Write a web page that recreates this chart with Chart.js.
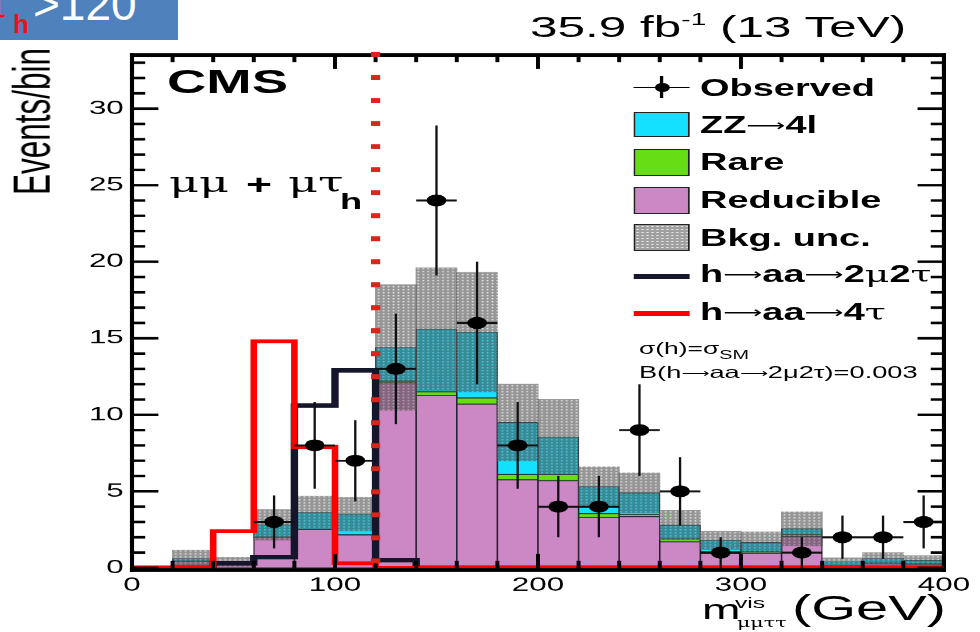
<!DOCTYPE html>
<html>
<head>
<meta charset="utf-8">
<script src="https://cdn.jsdelivr.net/npm/chart.js@4.4.1/dist/chart.umd.min.js"></script>
<style>
  html, body { margin: 0; padding: 0; background: #fff; overflow: hidden; }
  body { width: 980px; height: 632px; position: relative; font-family: "Liberation Sans", Arial, Helvetica, sans-serif; }
  /* the plot page is laid out in a narrower frame and widened as a whole */
  #stage { position: absolute; left: 0; top: 0; width: 594px; height: 632px; transform-origin: 0 0; transform: scaleX(1.6498); }
  #plot { position: absolute; left: 0; top: 0; width: 594px; height: 632px; }
  .t { position: absolute; white-space: nowrap; color: #000; }
  .b { font-weight: bold; }
  .g { font-family: "DejaVu Serif", serif; font-weight: normal; }
  .ar { font-family: "DejaVu Sans", sans-serif; font-weight: normal; font-size: 0.72em; position: relative; top: -0.12em; }
  .box { position: absolute; border: 1px solid #222; box-sizing: border-box; }
  .ln { position: absolute; }
  #tag { position: absolute; left: 0; top: 0; width: 178px; height: 40px; background: #4f81bd; overflow: hidden; }
  #tag div { position: absolute; white-space: nowrap; }
</style>
</head>
<body>
<div id="tag">
  <div style="left:-13px;top:-17px;font:40px 'DejaVu Serif',serif;line-height:40px;color:#e8141c;">τ</div>
  <div style="left:13px;top:11px;font:bold 26px 'Liberation Sans',Arial,sans-serif;line-height:26px;color:#e8141c;">h</div>
  <div style="left:33px;top:-19px;font:46px 'Liberation Sans',Arial,sans-serif;line-height:46px;color:#fff;">&gt;120</div>
</div>
<div id="stage">
  <div id="plot"><canvas id="c"></canvas></div>
</div>
<script>
// ---- binning (m_vis, GeV) ----
const binLow = [0, 20, 40, 60, 80, 100, 120, 140, 160, 180, 200, 220, 240, 260, 280, 300, 320, 340, 360, 380];
const binWidth = 20;

// ---- background expectations per bin ----
const reducible = [0, 0.45, 0.3, 2.0, 2.5, 2.15, 12.1, 11.25, 10.7, 5.75, 5.7, 3.3, 3.35, 1.7, 0.95, 0.95, 2.05, 0.05, 0.3, 0.25];
const rare      = [0, 0, 0, 0.02, 0.02, 0.02, 0.1, 0.25, 0.4, 0.35, 0.4, 0.25, 0.15, 0.2, 0.1, 0.1, 0.15, 0, 0.02, 0.02];
const zz4l      = [0, 0.15, 0.1, 0.8, 1.1, 1.35, 2.2, 4.1, 4.3, 3.4, 2.45, 1.75, 1.4, 0.9, 0.75, 0.6, 0.35, 0.35, 0.28, 0.23];
const bkgUnc    = [0, 0.55, 0.3, 1.0, 1.05, 1.1, 4.1, 4.0, 3.9, 2.5, 2.45, 1.3, 1.3, 0.95, 0.6, 0.7, 1.1, 0.25, 0.4, 0.3];

// ---- signal hypotheses ----
const sig2mu2tau = [0, 0, 0.3, 0.7, 10.6, 12.9, 0.5, 0, 0, 0, 0, 0, 0, 0, 0, 0, 0, 0, 0, 0];
const sig4tau    = [0, 0, 2.4, 14.8, 7.9, 0.3, 0, 0, 0, 0, 0, 0, 0, 0, 0, 0, 0, 0, 0, 0];

// ---- observed events ----
const observed = [0, 0, 0, 3, 8, 7, 13, 24, 16, 8, 4, 4, 9, 5, 1, 0, 1, 2, 2, 3];

// ---- axes ----
const xTickValues = [0, 100, 200, 300, 400];
const yTickValues = [0, 5, 10, 15, 20, 25, 30];
const xRange = [0, 400];
const yRange = [0, 33.5];
const cutValue = 120;

// ---- derived tables for the library ----
const centers = binLow.map(v => v + binWidth / 2);
const rareTop = reducible.map((v, i) => v + rare[i]);
const bkgTotal = rareTop.map((v, i) => v + zz4l[i]);
const floatBars = (lo, hi) => centers.map((c, i) => ({ x: c, y: [lo[i], hi[i]] }));
const stepLine = vals => binLow.map((x, i) => ({ x, y: vals[i] }))
  .concat([{ x: binLow[binLow.length - 1] + binWidth, y: vals[vals.length - 1] }]);

const obsBins = observed.map((n, i) => i).filter(i => observed[i] > 0);
const obsPoints = obsBins.map(i => ({ x: centers[i], y: observed[i] }));
const obsErrV = obsBins.flatMap(i => {
  const n = observed[i], e = Math.sqrt(n);
  return [{ x: centers[i], y: n - e }, { x: centers[i], y: n + e }, { x: centers[i], y: null }];
});
const obsErrH = obsBins.flatMap(i => [
  { x: binLow[i], y: observed[i] }, { x: binLow[i] + binWidth, y: observed[i] }, { x: centers[i], y: null }
]);

function dotPattern() {
  const c = document.createElement('canvas');
  c.width = 3; c.height = 3;
  const g = c.getContext('2d');
  g.fillStyle = 'rgba(80,80,80,0.6)';
  g.fillRect(0, 0, 3, 3);
  g.clearRect(1, 1, 1, 1);
  g.fillStyle = 'rgba(240,240,240,0.3)';
  g.fillRect(1, 1, 1, 1);
  return g.createPattern(c, 'repeat');
}

const STAGE_W = 594, H = 632, SX = 980 / STAGE_W;
const AREA = { left: 132 / SX, right: 948 / SX, top: 55, bottom: 567.5 };

// frame with inward ticks and the dotted selection line
const framePlugin = {
  id: 'frame',
  afterDatasetsDraw(chart) {
    const { ctx, chartArea: a, scales: { x, y } } = chart;
    ctx.save();
    ctx.fillStyle = '#000';
    const vw = 2.5, hw = 4;
    ctx.fillRect(a.left - vw / 2, a.top - hw / 2, a.right - a.left + vw, hw);
    ctx.fillRect(a.left - vw / 2, a.bottom, a.right - a.left + vw, hw);
    ctx.fillRect(a.left - vw / 2, a.top - hw / 2, vw, a.bottom - a.top + hw + hw / 2);
    ctx.fillRect(a.right - vw / 2, a.top - hw / 2, vw, a.bottom - a.top + hw + hw / 2);
    for (let v = 0; v <= yRange[1]; v += 1) {
      const py = y.getPixelForValue(v);
      const len = v % 5 === 0 ? 16 : 8;
      ctx.fillRect(a.left, py - 1.25, len, 2.5);
      ctx.fillRect(a.right - len, py - 1.25, len, 2.5);
    }
    for (let v = xRange[0]; v <= xRange[1]; v += binWidth) {
      const px = x.getPixelForValue(v);
      const len = v % 100 === 0 ? 14 : 7;
      ctx.fillRect(px - 1.2, a.bottom - len, 2.4, len);
      ctx.fillRect(px - 1.2, a.top, 2.4, len);
    }
    const cx = x.getPixelForValue(cutValue);
    ctx.fillStyle = '#d9261c';
    for (let yy = a.top - 3; yy < a.bottom - 2; yy += 23) {
      ctx.fillRect(cx - 2.8, yy, 5.6, 5);
    }
    ctx.restore();
  }
};

const tickFont = { family: '"Liberation Sans", Arial, sans-serif', size: 19 };

new Chart(document.getElementById('c'), {
  type: 'bar',
  data: {
    datasets: [
      { type: 'scatter', label: 'Observed', data: obsPoints, pointRadius: 6, pointHoverRadius: 6,
        pointBackgroundColor: '#000', pointBorderWidth: 0, order: 0 },
      { type: 'line', label: 'obs-err-v', data: obsErrV, borderColor: '#111', borderWidth: 1.4,
        pointRadius: 0, spanGaps: false, order: 1 },
      { type: 'line', label: 'obs-err-h', data: obsErrH, borderColor: '#111', borderWidth: 2,
        pointRadius: 0, spanGaps: false, order: 1 },
      { type: 'line', label: 'h→aa→4τ', data: stepLine(sig4tau), stepped: 'before', borderColor: '#ff0000',
        borderWidth: 4, pointRadius: 0, order: 2 },
      { type: 'line', label: 'h→aa→2μ2τ', data: stepLine(sig2mu2tau), stepped: 'before', borderColor: '#15152b',
        borderWidth: 4.5, pointRadius: 0, order: 3 },
      { label: 'Bkg. unc.', data: floatBars(bkgTotal.map((t, i) => Math.max(0, t - bkgUnc[i])), bkgTotal.map((t, i) => t + bkgUnc[i])),
        backgroundColor: dotPattern(), borderWidth: 0, grouped: false, barPercentage: 1, categoryPercentage: 1, order: 4 },
      { label: 'ZZ→4l', data: floatBars(rareTop, bkgTotal), backgroundColor: '#14e0ff', borderColor: '#1d2a30',
        borderWidth: 0.8, borderSkipped: false, grouped: false, barPercentage: 1, categoryPercentage: 1, order: 5 },
      { label: 'Rare', data: floatBars(reducible, rareTop), backgroundColor: '#66dd14', borderColor: '#1d2a30',
        borderWidth: 0.8, borderSkipped: false, grouped: false, barPercentage: 1, categoryPercentage: 1, order: 6 },
      { label: 'Reducible', data: floatBars(reducible.map(() => 0), reducible), backgroundColor: '#cc88c4', borderColor: '#2a2030',
        borderWidth: 0.8, borderSkipped: false, grouped: false, barPercentage: 1, categoryPercentage: 1, order: 7 }
    ]
  },
  options: {
    responsive: true,
    maintainAspectRatio: false,
    devicePixelRatio: SX,
    animation: false,
    events: [],
    layout: { padding: { left: 0, right: STAGE_W - AREA.right, top: AREA.top, bottom: 0 } },
    plugins: { legend: { display: false }, tooltip: { enabled: false } },
    scales: {
      x: {
        type: 'linear', min: xRange[0], max: xRange[1], offset: false,
        grid: { display: false, drawTicks: false }, border: { display: false },
        afterBuildTicks: s => { s.ticks = xTickValues.map(v => ({ value: v })); },
        afterFit: s => { s.height = H - AREA.bottom; },
        ticks: { font: tickFont, color: '#000', padding: 6, maxRotation: 0, autoSkip: false }
      },
      y: {
        type: 'linear', min: yRange[0], max: yRange[1],
        grid: { display: false, drawTicks: false }, border: { display: false },
        afterBuildTicks: s => { s.ticks = yTickValues.map(v => ({ value: v })); },
        afterFit: s => { s.width = AREA.left; },
        ticks: { font: tickFont, color: '#000', padding: 5, autoSkip: false }
      }
    }
  },
  plugins: [framePlugin]
});

// ---- text and legend ----
const stage = document.getElementById('stage');
function put(html, x, base, size, cls = '', style = '') {
  const d = document.createElement('div');
  d.className = 't ' + cls;
  d.innerHTML = html;
  d.style.cssText = `left:${x}px;top:${base - 0.847 * size}px;font-size:${size}px;line-height:${size}px;${style}`;
  stage.appendChild(d);
  return d;
}
function block(cls, x, y, w, h, style) {
  const d = document.createElement('div');
  d.className = cls;
  d.style.cssText = `left:${x}px;top:${y}px;width:${w}px;height:${h}px;${style}`;
  stage.appendChild(d);
  return d;
}
const X = v => v / SX;

// headline texts
put('CMS', X(167), 93, 33, 'b');
put('35.9 fb<span style="font-size:17px;position:relative;top:-12px;">-1</span> (13 TeV)', X(530), 37, 30);

// channel label
put('μμ', X(169), 193, 28, 'g');
put('+', X(246), 195, 27, 'b');
put('μτ', X(288), 193, 28, 'g');
put('h', X(340), 210, 22, 'b');

// axis titles
const yt = put('Events/bin', 3.6, 26.7, 31.5);
yt.style.top = '195px';
yt.style.transformOrigin = '0 0';
yt.style.transform = 'rotate(-90deg)';

put('m', X(702), 620, 28);
put('vis', X(735), 608, 15);
put('μμττ', X(737), 628, 12.5, 'g');
put('(GeV)', X(792), 620, 35);

// legend
const lx = X(634), lw = X(689) - X(634), tx = X(700);
block('ln', lx, 86.7, lw, 1.2, 'background:#000;');
block('ln', X(661.7) - 0.6, 76, 1.2, 22, 'background:#000;');
block('ln', X(661.7) - 4.5, 87.3 - 4.5, 9, 9, 'background:#000;border-radius:50%;');
put('Observed', tx, 96, 23, 'b');

block('box', lx, 111.7, lw, 25.6, 'background:#14e0ff;');
put('ZZ<span class="ar">⟶</span>4l', tx, 133.3, 23, 'b');

block('box', lx, 149.3, lw, 26.4, 'background:#66dd14;');
put('Rare', tx, 170.7, 23, 'b');

block('box', lx, 187.3, lw, 26.7, 'background:#cc88c4;');
put('Reducible', tx, 208.3, 23, 'b');

block('box', lx, 224.3, lw, 26.4, 'background-color:#a0a0a0;background-image:radial-gradient(circle,#e8e8e8 0.5px,transparent 0.8px);background-size:3px 3px;');
put('Bkg. unc.', tx, 246, 23, 'b');

block('ln', lx, 273.5, lw, 5, 'background:#15152b;');
put('h<span class="ar">⟶</span>aa<span class="ar">⟶</span>2<span class="g">μ</span>2<span class="g">τ</span>', tx, 282.7, 23, 'b');

block('ln', lx, 310.8, lw, 5, 'background:#ff0000;');
put('h<span class="ar">⟶</span>aa<span class="ar">⟶</span>4<span class="g">τ</span>', tx, 320, 23, 'b');

// signal normalisation note
put('σ(h)=σ<span style="font-size:12px;position:relative;top:5px;">SM</span>', X(639), 355, 16);
put('B(h<span class="ar">⟶</span>aa<span class="ar">⟶</span>2μ2τ)=0.003', X(639), 378, 16.5);
</script>
</body>
</html>
